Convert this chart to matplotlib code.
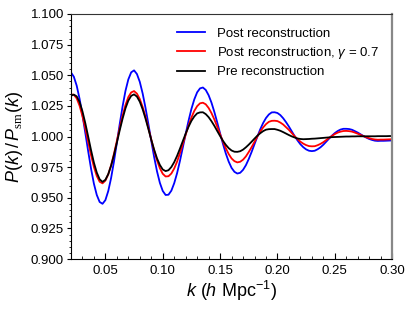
import matplotlib
matplotlib.use("Agg")
import numpy as np
import matplotlib.pyplot as plt
from matplotlib.ticker import MultipleLocator

plt.rcParams['font.family'] = ['Liberation Sans', 'DejaVu Sans']
plt.rcParams['mathtext.fontset'] = 'custom'
plt.rcParams['mathtext.rm'] = 'Liberation Sans'
plt.rcParams['mathtext.it'] = 'Liberation Sans:italic'
plt.rcParams['mathtext.sf'] = 'Liberation Serif'

# k grid (h/Mpc), 0.020 .. 0.300 every 0.0025
k = np.round(np.arange(0.020, 0.30001, 0.0025), 4)

# post reconstruction
r_post = [1.0523, 1.0488, 1.0415, 1.0308, 1.0177, 1.0030, 0.9880, 0.9738, 0.9615, 0.9523,
          0.9466, 0.9451, 0.9481, 0.9555, 0.9662, 0.9797, 0.9948, 1.0102, 1.0246, 1.0372,
          1.0466, 1.0524, 1.0540, 1.0510, 1.0446, 1.0351, 1.0233, 1.0101, 0.9965, 0.9833,
          0.9716, 0.9622, 0.9556, 0.9523, 0.9525, 0.9558, 0.9619, 0.9701, 0.9801, 0.9911,
          1.0022, 1.0129, 1.0225, 1.0303, 1.0361, 1.0393, 1.0400, 1.0380, 1.0337, 1.0276,
          1.0200, 1.0115, 1.0026, 0.9940, 0.9861, 0.9795, 0.9744, 0.9712, 0.9698, 0.9704,
          0.9728, 0.9766, 0.9817, 0.9875, 0.9938, 1.0000, 1.0059, 1.0110, 1.0151, 1.0180,
          1.0197, 1.0198, 1.0192, 1.0175, 1.0149, 1.0117, 1.0081, 1.0042, 1.0003, 0.9968,
          0.9937, 0.9913, 0.9895, 0.9884, 0.9881, 0.9884, 0.9896, 0.9912, 0.9933, 0.9958,
          0.9983, 1.0007, 1.0028, 1.0045, 1.0057, 1.0063, 1.0063, 1.0061, 1.0055, 1.0044,
          1.0032, 1.0018, 1.0004, 0.9991, 0.9980, 0.9972, 0.9966, 0.9964, 0.9965, 0.9965,
          0.9966, 0.9967, 0.9968]

# post reconstruction, gamma = 0.7
r_gam = [1.0344, 1.0341, 1.0311, 1.0251, 1.0167, 1.0066, 0.9956, 0.9848, 0.9752, 0.9678,
         0.9631, 0.9618, 0.9640, 0.9691, 0.9766, 0.9860, 0.9964, 1.0070, 1.0170, 1.0257,
         1.0322, 1.0360, 1.0371, 1.0350, 1.0306, 1.0241, 1.0160, 1.0069, 0.9976, 0.9885,
         0.9806, 0.9741, 0.9696, 0.9674, 0.9676, 0.9698, 0.9739, 0.9795, 0.9864, 0.9939,
         1.0015, 1.0089, 1.0155, 1.0209, 1.0248, 1.0271, 1.0276, 1.0263, 1.0233, 1.0191,
         1.0139, 1.0080, 1.0018, 0.9958, 0.9904, 0.9857, 0.9821, 0.9799, 0.9789, 0.9794,
         0.9811, 0.9838, 0.9874, 0.9914, 0.9957, 1.0000, 1.0040, 1.0074, 1.0101, 1.0120,
         1.0128, 1.0129, 1.0126, 1.0114, 1.0098, 1.0076, 1.0054, 1.0028, 1.0002, 0.9979,
         0.9958, 0.9942, 0.9930, 0.9922, 0.9920, 0.9921, 0.9929, 0.9940, 0.9954, 0.9971,
         0.9988, 1.0005, 1.0020, 1.0032, 1.0040, 1.0045, 1.0046, 1.0044, 1.0040, 1.0032,
         1.0023, 1.0013, 1.0003, 0.9994, 0.9986, 0.9980, 0.9976, 0.9974, 0.9975, 0.9975,
         0.9976, 0.9977, 0.9978]

# pre reconstruction
r_pre = [1.0333, 1.0342, 1.0328, 1.0282, 1.0206, 1.0109, 1.0000, 0.9889, 0.9787, 0.9706,
         0.9651, 0.9630, 0.9647, 0.9693, 0.9762, 0.9850, 0.9949, 1.0051, 1.0146, 1.0230,
         1.0293, 1.0332, 1.0344, 1.0326, 1.0284, 1.0222, 1.0146, 1.0061, 0.9974, 0.9893,
         0.9822, 0.9768, 0.9731, 0.9718, 0.9725, 0.9751, 0.9791, 0.9842, 0.9901, 0.9963,
         1.0024, 1.0080, 1.0128, 1.0164, 1.0189, 1.0197, 1.0198, 1.0183, 1.0158, 1.0125,
         1.0087, 1.0045, 1.0004, 0.9965, 0.9932, 0.9905, 0.9886, 0.9876, 0.9875, 0.9880,
         0.9893, 0.9912, 0.9934, 0.9958, 0.9983, 1.0007, 1.0027, 1.0044, 1.0056, 1.0060,
         1.0061, 1.0061, 1.0055, 1.0047, 1.0036, 1.0024, 1.0012, 1.0001, 0.9992, 0.9984,
         0.9980, 0.9978, 0.9979, 0.9980, 0.9982, 0.9983, 0.9985, 0.9987, 0.9989, 0.9991,
         0.9993, 0.9995, 0.9996, 0.9997, 0.9998, 0.9999, 1.0000, 1.0000, 1.0001, 1.0001,
         1.0002, 1.0002, 1.0002, 1.0002, 1.0002, 1.0002, 1.0002, 1.0003, 1.0003, 1.0003,
         1.0003, 1.0004, 1.0004]

fig = plt.figure(figsize=(4.15, 3.11), dpi=100)
ax = fig.add_axes([0.171, 0.167, 0.774, 0.788])

ax.plot(k, r_post, color='#0000ff', lw=1.3, label='Post reconstruction')
ax.plot(k, r_gam, color='#ff0000', lw=1.3, label=r'Post reconstruction, $\gamma$ = 0.7')
ax.plot(k, r_pre, color='black', lw=1.3, label='Pre reconstruction')

ax.set_xlim(0.02, 0.30)
ax.set_ylim(0.900, 1.100)
ax.xaxis.set_minor_locator(MultipleLocator(0.01))
ax.yaxis.set_major_locator(MultipleLocator(0.025))
ax.yaxis.set_minor_locator(MultipleLocator(0.005))
ax.set_xticks([0.05, 0.10, 0.15, 0.20, 0.25, 0.30])
ax.set_xticklabels(['0.05', '0.10', '0.15', '0.20', '0.25', '0.30'])
ax.yaxis.set_major_formatter(plt.FormatStrFormatter('%.3f'))

ax.tick_params(axis='x', which='major', direction='in', length=4, labelsize=9.5, pad=4)
ax.tick_params(axis='x', which='minor', direction='in', length=2)
ax.tick_params(axis='y', which='major', direction='out', length=3, labelsize=9.5, pad=2)
ax.tick_params(axis='y', which='minor', direction='out', length=1.5)

ax.spines['top'].set_color('#333333')
ax.spines['right'].set_color('#888888')
ax.spines['right'].set_linewidth(1.6)

ax.set_xlabel(r'$k$ ($h$ Mpc$^{-1}$)', fontsize=13, labelpad=2)
ax.set_ylabel(r'$P(k)\,/\,P_{\mathsf{sm}}(k)$', fontsize=13, labelpad=4)

ax.legend(loc='upper left', bbox_to_anchor=(0.314, 0.967), borderaxespad=0,
          frameon=False, fontsize=9.5, handlelength=2.1, labelspacing=0.4,
          handletextpad=0.9)

plt.savefig('out.png', dpi=100)
